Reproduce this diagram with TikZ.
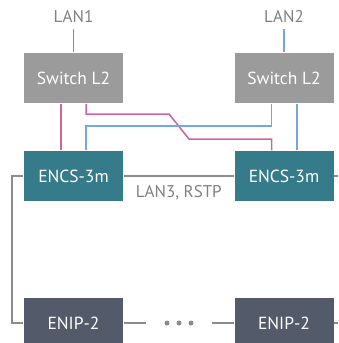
\documentclass[tikz,border=0pt]{standalone}
\usepackage{fontspec}
\setmainfont{PT Sans}
\definecolor{swgray}{HTML}{9B9B9B}
\definecolor{encsteal}{HTML}{367B89}
\definecolor{enipslate}{HTML}{535B6A}
\definecolor{lanpink}{HTML}{D0649C}
\definecolor{lanblue}{HTML}{74A7DB}
\definecolor{wiregray}{HTML}{8C8C8C}
\definecolor{labelgray}{HTML}{808080}
\tikzset{
  devbox/.style={minimum width=99pt,minimum height=50pt,inner sep=0pt,text=white,font=\fontsize{17.5}{20}\selectfont},
  lanlabel/.style={text=labelgray,font=\fontsize{17}{20}\selectfont,inner sep=0pt}
}
\begin{document}
\begin{tikzpicture}[x=1pt,y=-1pt,line width=1.5pt]
    % pixel grid: 338 x 343, y downwards
    \useasboundingbox (0,0) rectangle (338,343);
    \begin{scope}
    \clip (0,0) rectangle (338,343);
    \node[devbox,fill=swgray]    (swl)   at (73.5,78)  {Switch L2};
    \node[devbox,fill=swgray]    (swr)   at (284,78)   {Switch L2};
    \node[devbox,fill=encsteal]  (encsl) at (73.5,176) {ENCS-3m};
    \node[devbox,fill=encsteal]  (encsr) at (284,176)  {ENCS-3m};
    \node[devbox,fill=enipslate] (enipl) at (73.5,323) {ENIP-2};
    \node[devbox,fill=enipslate] (enipr) at (284,323)  {ENIP-2};
    \node[lanlabel] (lan1) at (73.5,17) {LAN1};
    \node[lanlabel] (lan2) at (284,17)  {LAN2};
    \node[minimum width=64pt,inner sep=0pt] (dots) at (179,323) {};
    \coordinate (pinkA) at (169,114);
    \coordinate (pinkB) at (189,139);
    \coordinate (blueA) at (86,126);
    \coordinate (blueB) at (271.5,126);
    \coordinate (loopL) at (12,176);
    \coordinate (edgeA) at (338,176);
    \coordinate (edgeB) at (338,323);
    % LAN1, pink
    \draw[lanpink] ([yshift=-5pt]lan1.south) -- (swl.north);
    \draw[lanpink] ([xshift=-12.5pt]swl.south) -- ([xshift=-12.5pt]encsl.north);
    \draw[lanpink] ([xshift=12.5pt]swl.south) |- (pinkA) -- (pinkB) -| ([xshift=-12.5pt]encsr.north);
    % LAN2, blue
    \draw[lanblue] ([yshift=-5pt]lan2.south) -- (swr.north);
    \draw[lanblue] ([xshift=13pt]swr.south) -- ([xshift=13pt]encsr.north);
    \draw[lanblue] ([xshift=12.5pt]encsl.north) -- (blueA) -- (blueB) -- ([xshift=-12.5pt]swr.south);
    % LAN3 ring
    \draw[wiregray] (encsl.east) -- (encsr.west) node[midway,below=9pt,lanlabel] {LAN3, RSTP};
    \draw[wiregray] (encsl.west) -- (loopL) |- (enipl.west);
    \draw[wiregray] (encsr.east) -- (edgeA);
    \draw[wiregray] (enipr.east) -- (edgeB);
    \draw[wiregray] (enipl.east) -- (dots.west);
    \draw[wiregray] (dots.east) -- (enipr.west);
    \foreach \x in {-12,0,12}{
        \fill[wiregray] ([xshift=\x pt]dots.center) circle (2.5pt);
    }
    \end{scope}
\end{tikzpicture}
\end{document}
